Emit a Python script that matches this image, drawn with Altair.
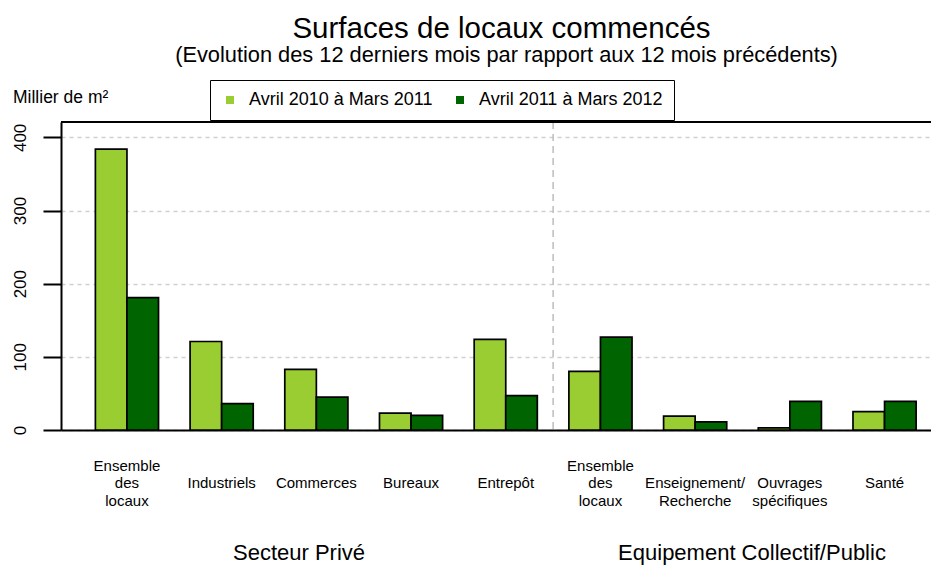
import json
import altair as alt
import pandas as pd

# ---------------- data ----------------
categories = [
    "Ensemble\ndes\nlocaux", "Industriels", "Commerces", "Bureaux", "Entrepôt",
    "Ensemble\ndes\nlocaux", "Enseignement/\nRecherche", "Ouvrages\nspécifiques", "Santé",
]
series_names = ["Avril 2010 à Mars 2011", "Avril 2011 à Mars 2012"]
values_2010_2011 = [384, 121, 83, 23, 124, 80, 19, 3, 25]
values_2011_2012 = [181, 36, 45, 20, 47, 127, 11, 39, 39]
sectors = ["Secteur Privé", "Equipement Collectif/Public"]
y_ticks = [0, 100, 200, 300, 400]

title_text = "Surfaces de locaux commencés"
subtitle_text = "(Evolution des 12 derniers mois par rapport aux 12 mois précédents)"
unit_text = "Millier de m²"

colors = ["#9ACD32", "#006400"]
FONT = "Liberation Sans"

rows = []
for i in range(len(categories)):
    rows.append({"idx": i, "series": series_names[0], "value": values_2010_2011[i]})
    rows.append({"idx": i, "series": series_names[1], "value": values_2011_2012[i]})
df = pd.DataFrame(rows)

# pad the labels to 3 lines so they are all bottom aligned
padded = []
for c in categories:
    lines = c.split("\n")
    padded.append([""] * (3 - len(lines)) + lines)
label_expr = json.dumps(padded, ensure_ascii=False) + "[datum.value]"

W, H = 870, 308

x_enc = alt.X(
    "idx:O",
    scale=alt.Scale(paddingInner=1 / 3, paddingOuter=0.2601, align=0.698),
    axis=alt.Axis(
        title=None, ticks=False, tickSize=0, labelAngle=0, labelPadding=40,
        labelFontSize=15, labelLineHeight=17.5, labelBaseline="alphabetic",
        labelExpr=label_expr, labelOverlap=False, domainColor="black",
        domainWidth=2, grid=False, labelColor="black", labelFont=FONT,
    ),
)

bars = alt.Chart(df).mark_bar(stroke="black", strokeWidth=1.7).encode(
    x=x_enc,
    xOffset=alt.XOffset("series:N", sort=series_names),
    y=alt.Y(
        "value:Q",
        scale=alt.Scale(domain=[0, 421], nice=False, zero=True),
        axis=alt.Axis(
            title=None, values=y_ticks, labelAngle=270, labelAlign="center",
            labelBaseline="alphabetic", tickSize=18, tickWidth=2,
            tickColor="black", domainColor="black", domainWidth=2,
            labelPadding=18, labelFontSize=17, labelColor="black",
            labelFont=FONT, grid=True, gridColor="#cfcfcf",
            gridDash=[4, 4], gridWidth=1.5,
        ),
    ),
    color=alt.Color(
        "series:N",
        sort=series_names,
        scale=alt.Scale(domain=series_names, range=colors),
        legend=alt.Legend(
            orient="none", legendX=149, legendY=-42, direction="horizontal",
            title=None, strokeColor="black", fillColor="white", padding=11,
            symbolType="square", symbolSize=64, symbolStrokeWidth=0,
            labelFontSize=18, labelFont=FONT, labelColor="black",
            labelLimit=400, columnPadding=18, labelOffset=10,
        ),
    ),
)

top_border = alt.Chart(pd.DataFrame({"k": [0]})).mark_rule(
    color="black", strokeWidth=2
).encode(y=alt.value(0))

# separator halfway in the gap between group 4 and group 5
separator = alt.Chart(pd.DataFrame({"idx": [4]})).mark_rule(
    color="#bdbdbd", strokeWidth=1.5, strokeDash=[7, 5], xOffset=15.8
).encode(x=alt.X("idx:O", bandPosition=1))

ann = pd.DataFrame({
    "text": [title_text, subtitle_text, unit_text, sectors[0], sectors[1]],
    "px": [440.5, 445.5, -48, 238, 691],
    "py": [-84, -60, -19, 438, 438],
    "size": [29.5, 21.8, 17.5, 22, 22],
    "align": ["center", "center", "left", "center", "center"],
})

texts = []
for _, r in ann.iterrows():
    texts.append(
        alt.Chart(pd.DataFrame({"t": [r["text"]]})).mark_text(
            font=FONT, fontSize=float(r["size"]), align=r["align"],
            baseline="alphabetic", color="black",
        ).encode(text="t:N", x=alt.value(float(r["px"])), y=alt.value(float(r["py"])))
    )

chart = alt.layer(bars, separator, top_border, *texts).properties(
    width=W, height=H,
    autosize=alt.AutoSizeParams(type="none"),
    padding={"left": 53, "top": 114, "right": 0, "bottom": 137},
).configure_view(fill="#FCF7D0", strokeWidth=0).configure(background="white")

chart.save("out.html", embed_options={"renderer": "svg", "actions": False})
